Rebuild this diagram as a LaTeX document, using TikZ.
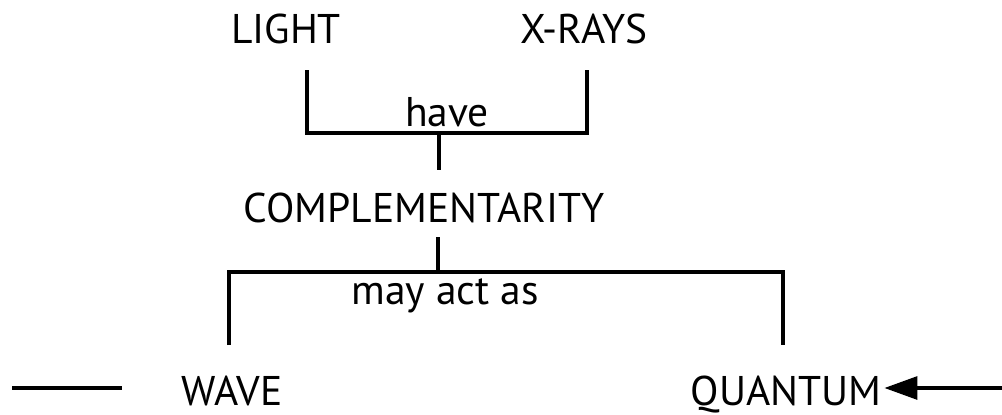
\documentclass[tikz,border=0pt]{standalone}
\usepackage{fontspec}
\setmainfont{PT Sans}
\usetikzlibrary{arrows.meta}
\begin{document}
\begin{tikzpicture}[x=1pt,y=-1pt,
  term/.style={font=\fontsize{41.5}{50}\selectfont, anchor=base, inner sep=0pt},
  linkword/.style={font=\fontsize{41.5}{50}\selectfont, anchor=base, inner sep=0pt},
  conn/.style={line width=3.2pt, line cap=butt},
  head/.style={-{Triangle[length=33pt,width=23pt]}}]
\useasboundingbox (0,0) rectangle (1002,415);

% concepts
\node[term] (light) at (286,43) {LIGHT};
\node[term] (xrays) at (584,43) {X-RAYS};
\node[term] (compl) at (424,222) {COMPLEMENTARITY};
\node[term] (wave) at (232,405) {WAVE};
\node[term] (quantum) at (786,405) {QUANTUM};

% linking words
\node[linkword] (have) at (447,126) {have};
\node[linkword] (mayact) at (445,304) {may act as};

% upper bracket
\coordinate (b1a) at (307,70);
\coordinate (b1b) at (307,133);
\coordinate (b1c) at (587,133);
\coordinate (b1d) at (587,70);
\coordinate (s1a) at (439,133);
\coordinate (s1b) at (439,170);
\draw[conn] (b1a) -- (b1b) -- (b1c) -- (b1d);
\draw[conn] (s1a) -- (s1b);

% lower bracket
\coordinate (s2a) at (438,237);
\coordinate (s2b) at (438,272);
\coordinate (b2a) at (229,345);
\coordinate (b2b) at (229,272);
\coordinate (b2c) at (783,272);
\coordinate (b2d) at (783,345);
\draw[conn] (s2a) -- (s2b);
\draw[conn] (b2a) -- (b2b) -- (b2c) -- (b2d);

% side links
\coordinate (l1) at (12,388);
\coordinate (l2) at (122,388);
\draw[conn] (l1) -- (l2);
\coordinate (qin) at (1002,388);
\draw[conn, head] (qin) -- ([xshift=3pt]qin -| quantum.east);
\end{tikzpicture}
\end{document}
